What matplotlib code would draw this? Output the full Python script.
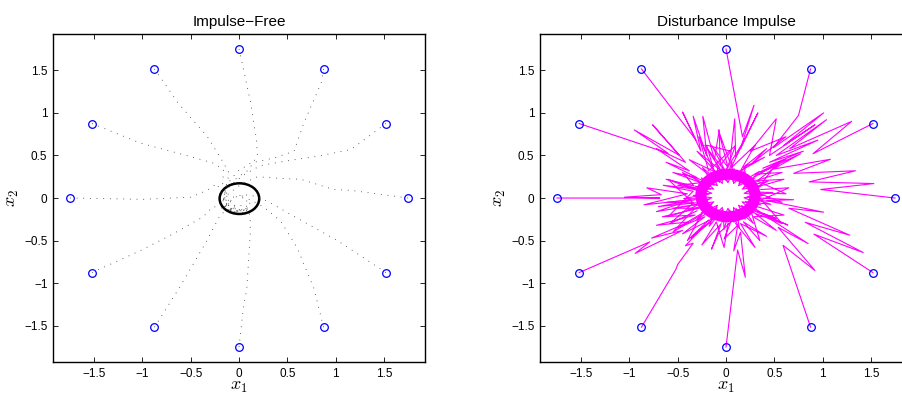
import matplotlib
matplotlib.use('Agg')
import matplotlib.pyplot as plt
from matplotlib.patches import Ellipse

plt.rcParams['font.family'] = ['Liberation Sans', 'DejaVu Sans']
plt.rcParams['mathtext.fontset'] = 'cm'

# --- Impulse-free trajectories ---
free_x = [
    [0, 0.03, 0.12, 0.18, 0.19, 0.10, -0.02, -0.14, -0.17, -0.06, 0.08],
    [0.875, 0.85, 0.67, 0.57, 0.36, 0.12, -0.02, -0.13, -0.16, -0.04, 0.10],
    [1.52, 1.16, 0.81, 0.46, 0.22, 0.06, -0.10, -0.16, -0.10, 0.04],
    [1.75, 1.16, 0.98, 0.64, 0.43, 0.19, 0.02, -0.12, -0.15, -0.05],
    [1.52, 1.02, 0.53, 0.30, 0.18, 0.05, -0.10, -0.14, -0.05],
    [0.875, 0.775, 0.60, 0.43, 0.26, 0.12, -0.02, -0.12, -0.08],
    [0, 0.048, 0.08, 0.116, 0.116, 0.09, 0.0, -0.10, -0.14],
    [-0.875, -0.61, -0.333, -0.19, -0.08, 0.05, 0.10, 0.02],
    [-1.52, -1.026, -0.68, -0.37, -0.27, -0.16, -0.05, 0.08, 0.12],
    [-1.75, -0.99, -0.50, -0.33, -0.23, -0.18, -0.12, 0.0, 0.10],
    [-1.52, -1.026, -0.507, -0.265, -0.16, -0.17, -0.12, -0.02, 0.10],
    [-0.875, -0.63, -0.33, -0.18, -0.10, -0.14, -0.15, -0.06, 0.06],
]
free_y = [
    [1.75, 1.60, 1.12, 0.69, 0.50, 0.33, 0.24, 0.10, -0.06, -0.16, -0.14],
    [1.516, 1.35, 0.88, 0.55, 0.47, 0.41, 0.31, 0.15, -0.02, -0.14, -0.12],
    [0.875, 0.57, 0.49, 0.43, 0.38, 0.28, 0.14, -0.02, -0.14, -0.15],
    [0.0, 0.09, 0.10, 0.22, 0.23, 0.25, 0.16, 0.04, -0.10, -0.17],
    [-0.875, -0.50, -0.19, -0.04, 0.02, 0.04, 0.0, -0.10, -0.16],
    [-1.516, -1.06, -0.58, -0.27, -0.11, -0.02, 0.02, -0.06, -0.15],
    [-1.75, -1.26, -1.07, -0.42, -0.22, -0.12, -0.08, -0.10, -0.02],
    [-1.516, -1.04, -0.50, -0.19, -0.12, -0.14, -0.06, 0.04],
    [-0.875, -0.62, -0.42, -0.22, -0.10, -0.12, -0.16, -0.14, -0.04],
    [0.0, -0.015, 0.01, 0.09, 0.17, 0.05, -0.10, -0.16, -0.12],
    [0.875, 0.647, 0.488, 0.41, 0.33, 0.16, 0.0, -0.14, -0.15],
    [1.516, 1.114, 0.725, 0.45, 0.29, 0.12, -0.04, -0.16, -0.17],
]
# limit cycle (centre x, centre y, width, height)
cycle_free = (0.004, -0.007, 0.41, 0.36)

# --- Disturbance-impulse trajectories ---
dist_x = [
    [0, 0.17, 0.29, 0.15, 0.33, 0.10, 0.09, 0.04, -0.08, 0.02, -0.15, 0.0,
     -0.22, -0.05, -0.30, -0.10, -0.38, -0.15],
    [0.875, 0.75, 0.49, 1.01, 0.60, 0.92, 0.45, 0.52, 0.25, 0.62, 0.28, 0.42, 0.18,
     0.40, 0.15, 0.30, 0.05, 0.18, 0.0],
    [1.52, 0.90, 1.30, 0.66, 1.04, 0.52, 0.95, 0.45, 0.80, 0.38, 0.62, 0.30,
     0.58, 0.30, 0.60, 0.35, 0.52, 0.30],
    [1.75, 0.98, 1.53, 0.86, 1.34, 0.70, 1.08, 0.49, 0.77, 0.36, 0.55, 0.32,
     0.62, 0.33, 0.58, 0.35, 0.65, 0.36],
    [1.52, 0.91, 1.42, 0.82, 1.28, 0.65, 1.01, 0.42, 0.70, 0.35,
     0.58, 0.30, 0.52, 0.28, 0.60, 0.32],
    [0.875, 0.59, 0.92, 0.54, 0.85, 0.42, 0.64, 0.32, 0.52, 0.25,
     0.35, 0.18, 0.42, 0.15, 0.30, 0.10],
    [0.0, 0.12, 0.20, 0.15, 0.08, 0.12, -0.02, 0.05, -0.08,
     -0.15, -0.05, -0.25, -0.10, -0.02, 0.02],
    [-0.875, -0.52, -0.50, -0.34, -0.42, -0.24, -0.36, -0.16, -0.28, -0.10,
     -0.45, -0.22, -0.50, -0.25, -0.40, -0.18],
    [-1.52, -0.79, -0.94, -0.45, -0.77, -0.38, -0.72, -0.32, -0.66, -0.28, -0.55, -0.22,
     -0.62, -0.32, -0.70, -0.34, -0.58, -0.30],
    [-1.75, -0.685, -1.05, -0.67, -0.82, -0.40, -0.85, -0.36, -0.72, -0.32, -0.60, -0.28,
     -0.65, -0.34, -0.60, -0.32, -0.55, -0.26],
    [-1.52, -0.60, -0.95, -0.48, -0.76, -0.42, -0.72, -0.38, -0.62, -0.30, -0.55, -0.26,
     -0.50, -0.30, -0.62, -0.33, -0.45, -0.28],
    [-0.875, -0.31, -0.45, -0.26, -0.34, -0.20, -0.24, -0.12, -0.07, -0.06, 0.05,
     -0.20, -0.12, -0.28, -0.18, 0.10, 0.0],
]
dist_y = [
    [1.75, 0.72, 1.09, 0.58, 1.0, 0.48, 0.93, 0.42, 0.80, 0.36, 0.62, 0.30,
     0.62, 0.32, 0.55, 0.30, 0.45, 0.25],
    [1.516, 0.97, 0.59, 1.0, 0.62, 0.86, 0.50, 0.93, 0.55, 0.72, 0.42, 0.58, 0.36,
     0.48, 0.32, 0.62, 0.35, 0.66, 0.33],
    [0.875, 0.52, 0.90, 0.58, 0.92, 0.50, 0.68, 0.42, 0.55, 0.35, 0.45, 0.28,
     0.30, 0.20, 0.22, 0.14, 0.40, 0.25],
    [0.0, 0.10, 0.17, 0.19, 0.32, 0.29, 0.455, 0.34, 0.52, 0.30, 0.40, 0.20,
     0.05, 0.06, -0.05, -0.03, 0.12, 0.10],
    [-0.875, -0.424, -0.64, -0.285, -0.436, -0.12, -0.166, -0.03, -0.02, 0.0,
     -0.30, -0.18, -0.38, -0.22, -0.20, -0.10],
    [-1.516, -0.555, -0.85, -0.345, -0.535, -0.218, -0.317, -0.16, -0.24, -0.12,
     -0.50, -0.28, -0.45, -0.30, -0.58, -0.30],
    [-1.75, -0.61, -0.93, -0.40, -0.62, -0.32, -0.48, -0.28, -0.42,
     -0.60, -0.30, -0.55, -0.28, -0.58, -0.30],
    [-1.516, -0.84, -0.78, -0.53, -0.56, -0.34, -0.47, -0.28, -0.38, -0.22,
     -0.42, -0.22, -0.35, -0.18, -0.50, -0.26],
    [-0.875, -0.515, -0.65, -0.38, -0.47, -0.28, -0.32, -0.20, -0.22, -0.12, -0.12, -0.06,
     -0.05, -0.02, -0.10, -0.06, -0.30, -0.15],
    [0.0, 0.0, 0.01, 0.04, 0.12, 0.05, -0.08, -0.02, -0.16, -0.08, 0.22, 0.10,
     0.15, 0.08, -0.22, -0.12, -0.40, -0.20],
    [0.875, 0.526, 0.80, 0.50, 0.86, 0.42, 0.58, 0.32, 0.42, 0.24, 0.30, 0.18,
     0.15, 0.10, 0.22, 0.14, 0.30, 0.20],
    [1.516, 0.68, 1.01, 0.55, 0.96, 0.50, 0.96, 0.45, 0.80, 0.38, 0.55,
     0.62, 0.30, 0.72, 0.32, 0.62, 0.32],
]
# dense scribble around the perturbed cycle (inner and outer spikes)
ring_x = [0.38, 0.187, 0.358, 0.167, 0.296, 0.129, 0.20, 0.078, 0.083, 0.02,
          -0.043, -0.038, -0.16, -0.089, -0.256, -0.127, -0.318, -0.147, -0.34, -0.147,
          -0.318, -0.127, -0.256, -0.089, -0.16, -0.038, -0.043, 0.02, 0.083, 0.078,
          0.20, 0.129, 0.296, 0.167, 0.358, 0.187, 0.38]
ring_y = [0.03, 0.056, 0.139, 0.105, 0.236, 0.145, 0.307, 0.171, 0.345, 0.18,
          0.345, 0.171, 0.307, 0.145, 0.236, 0.105, 0.139, 0.056, 0.03, 0.004,
          -0.079, -0.045, -0.176, -0.085, -0.247, -0.111, -0.285, -0.12, -0.285, -0.111,
          -0.247, -0.085, -0.176, -0.045, -0.079, 0.004, 0.03]
ring2_x = [0.478, 0.213, 0.437, 0.184, 0.345, 0.135, 0.215, 0.072, 0.060, 0.003,
           -0.099, -0.065, -0.244, -0.121, -0.357, -0.161, -0.424, -0.179, -0.438, -0.173,
           -0.397, -0.144, -0.305, -0.095, -0.175, -0.032, -0.020, 0.037, 0.139, 0.105,
           0.284, 0.161, 0.397, 0.201, 0.464, 0.219, 0.478]
ring2_y = [0.065, 0.074, 0.199, 0.128, 0.313, 0.169, 0.392, 0.194, 0.428, 0.199,
           0.416, 0.184, 0.358, 0.150, 0.260, 0.102, 0.134, 0.045, -0.005, -0.014,
           -0.139, -0.068, -0.253, -0.109, -0.332, -0.134, -0.368, -0.139, -0.356, -0.124,
           -0.298, -0.090, -0.200, -0.042, -0.074, 0.015, 0.065]
cycle_dist = (0.02, 0.03, 0.56, 0.50)

ticks = [-1.5, -1, -0.5, 0, 0.5, 1, 1.5]
tick_labels = ['\u22121.5', '\u22121', '\u22120.5', '0', '0.5', '1', '1.5']
lim = 1.925

fig = plt.figure(figsize=(9.02, 3.96), dpi=100)
ax1 = fig.add_axes([0.0588, 0.0859, 0.4124, 0.828])
ax2 = fig.add_axes([0.5987, 0.0859, 0.4124, 0.828])

# left panel
for xs, ys in zip(free_x, free_y):
    ax1.plot(xs, ys, color='0.2', lw=0.6, dashes=(1, 7))
ax1.add_patch(Ellipse(cycle_free[:2], cycle_free[2], cycle_free[3],
                      fill=False, ec='k', lw=1.8))
ax1.set_title('Impulse\u2212Free', fontsize=11, pad=6)

# right panel
mag = '#ff00ff'
ax2.add_patch(Ellipse(cycle_dist[:2], cycle_dist[2], cycle_dist[3],
                      fill=False, ec=mag, lw=8))
for xs, ys in zip(dist_x, dist_y):
    ax2.plot(xs, ys, color=mag, lw=0.8)
ax2.plot(ring_x, ring_y, color=mag, lw=0.8)
ax2.plot(ring2_x, ring2_y, color=mag, lw=0.8)
ax2.set_title('Disturbance Impulse', fontsize=11, pad=6)

for ax, tr_x, tr_y in [(ax1, free_x, free_y), (ax2, dist_x, dist_y)]:
    sx = [t[0] for t in tr_x]
    sy = [t[0] for t in tr_y]
    ax.plot(sx, sy, 'o', mfc='none', mec='blue', ms=5.5, mew=0.9, zorder=5)
    ax.set_xlim(-lim, lim)
    ax.set_ylim(-lim, lim)
    ax.set_xticks(ticks)
    ax.set_xticklabels(tick_labels)
    ax.set_yticks(ticks)
    ax.set_yticklabels(tick_labels)
    ax.tick_params(direction='in', top=True, right=True, length=3.5,
                   width=0.6, labelsize=8.5, pad=4)
    for s in ax.spines.values():
        s.set_linewidth(1.0)
    ax.set_xlabel('$x_1$', fontsize=13, labelpad=-1)
    ax.set_ylabel('$x_2$', fontsize=13, labelpad=2)

fig.savefig('out.png', dpi=100)
